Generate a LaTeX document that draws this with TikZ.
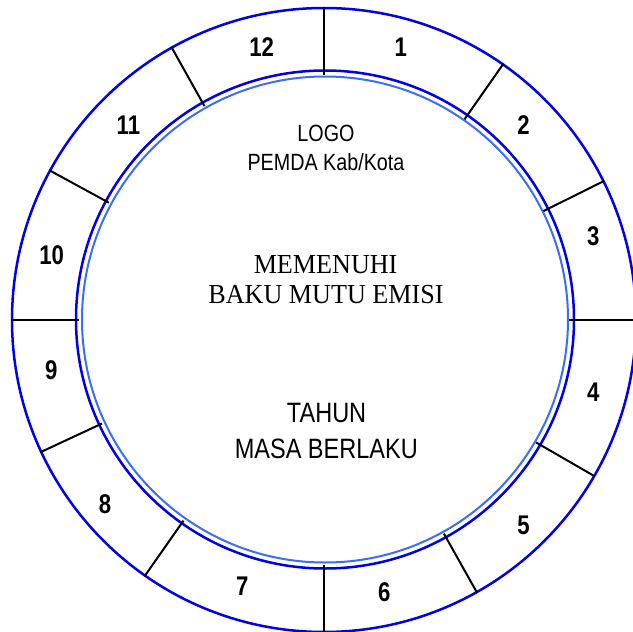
\documentclass[tikz,border=0pt]{standalone}
\usepackage{fontspec}
\setmainfont{Liberation Serif}
\newfontfamily\numfont[FakeStretch=0.82]{Liberation Sans}
\newfontfamily\txtfont[FakeStretch=0.84]{Liberation Sans}
\newfontfamily\serfont[FakeStretch=0.95]{Liberation Serif}
\definecolor{ringblue}{RGB}{0,0,230}
\definecolor{lightring}{RGB}{60,110,245}
\tikzset{
  ring/.style={draw=ringblue,line width=2.5pt},
  lring/.style={draw=lightring,line width=2pt},
  divider/.style={draw=black,line width=2pt},
  numlbl/.style={anchor=base,inner sep=0pt,font=\numfont\bfseries\fontsize{27}{27}\selectfont},
  logotxt/.style={anchor=base,inner sep=0pt,font=\txtfont\fontsize{23.5}{23.5}\selectfont},
  sertxt/.style={anchor=base,inner sep=0pt,font=\serfont\fontsize{27.5}{27.5}\selectfont},
  yeartxt/.style={anchor=base,inner sep=0pt,font=\txtfont\fontsize{28}{28}\selectfont},
}
\begin{document}
\begin{tikzpicture}[x=1pt,y=-1pt]
\useasboundingbox (0,0) rectangle (633,632);
\clip (0,0) rectangle (633,632);
\fill[white] (0,0) rectangle (633,632);
% rings
\coordinate (c) at (324,320);
\coordinate (ci) at (325,319.5);
\draw[ring] (c) circle[radius=312];
\draw[ring] (ci) circle[radius=249];
\draw[lring] (ci) circle[radius=243];
% dividers
\begin{scope}[shift={(324,320)}]
\foreach \a in {0,35,63.6,90,120,150.7,180,215,245,270,298.6,330.8}{
  \draw[divider] ({\a-90}:245) -- ({\a-90}:313);
}
\end{scope}
% numbers
\node[numlbl] (n12) at (261.6,56.1) {12};
\node[numlbl] (n1) at (400.9,56.1) {1};
\node[numlbl] (n2) at (523.6,134.7) {2};
\node[numlbl] (n3) at (593.4,245.7) {3};
\node[numlbl] (n4) at (593.4,401.3) {4};
\node[numlbl] (n5) at (523.6,534.5) {5};
\node[numlbl] (n6) at (384.3,601.1) {6};
\node[numlbl] (n7) at (242.2,595.1) {7};
\node[numlbl] (n8) at (105,513.5) {8};
\node[numlbl] (n9) at (51.3,379.1) {9};
\node[numlbl] (n10) at (51.7,264) {10};
\node[numlbl] (n11) at (128.4,134.7) {11};
% texts
\node[logotxt] (logo) at (326,141.3) {LOGO};
\node[logotxt] (pemda) at (326,170.4) {PEMDA Kab/Kota};
\node[sertxt] (mem) at (325.6,273.7) {MEMENUHI};
\node[sertxt] (baku) at (326,303.6) {BAKU MUTU EMISI};
\node[yeartxt] (tahun) at (326.6,422.7) {TAHUN};
\node[yeartxt] (masa) at (326.3,458.2) {MASA BERLAKU};
\end{tikzpicture}
\end{document}
